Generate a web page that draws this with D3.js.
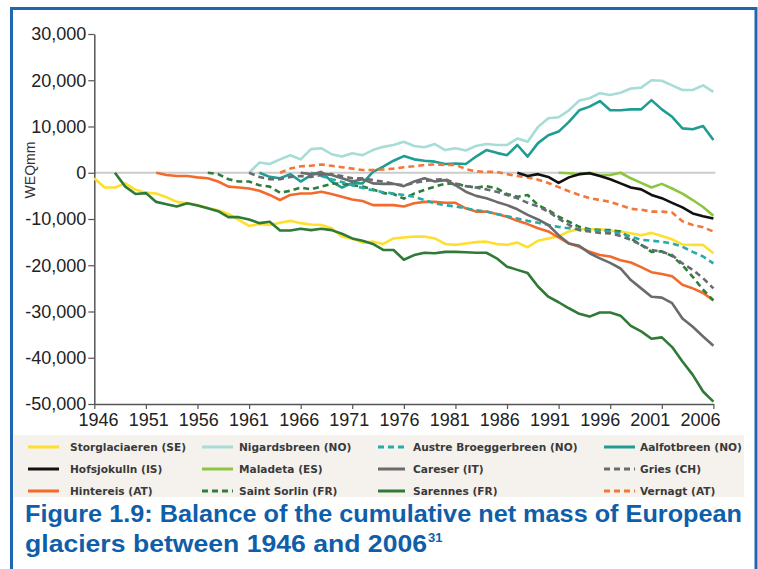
<!DOCTYPE html>
<html>
<head>
<meta charset="utf-8">
<script src="https://cdn.jsdelivr.net/npm/d3@7"></script>
<style>
  html, body { margin: 0; padding: 0; background: #ffffff; }
  svg { display: block; }
</style>
</head>
<body>
<svg id="chart" width="758" height="569"></svg>
<script>
// ---------- DATA ----------
const firstYear = 1946;
const lastYear = 2006;
const yTickValues = [30000, 20000, 10000, 0, -10000, -20000, -30000, -40000, -50000];
const xTickYears = [1946, 1951, 1956, 1961, 1966, 1971, 1976, 1981, 1986, 1991, 1996, 2001, 2006];

const storglaciaeren = [-1200, -3200, -3200, -2300, -3700, -4300, -4500, -5300, -6300, -6600, -7000, -7600, -8100, -8900, -10200, -11500, -11100, -11300, -10800, -10400, -10900, -11200, -11300, -12000, -13800, -14300, -15100, -14900, -15400, -14200, -14000, -13800, -13800, -14200, -15400, -15600, -15300, -15000, -14900, -15400, -15600, -15100, -16100, -14700, -14200, -13700, -12700, -12200, -12200, -12200, -12500, -12700, -13100, -13500, -13000, -13700, -14400, -15500, -15600, -15600, -17400];
const storglaciaerenStart = 1946;

const nigardsbreen = [0, 2200, 1900, 2900, 3800, 2900, 5100, 5300, 4000, 3500, 4200, 3800, 4900, 5600, 6000, 6700, 5800, 5500, 6200, 4900, 5300, 4800, 5800, 6200, 6000, 6000, 7400, 6700, 9900, 11800, 12000, 13500, 15600, 16100, 17200, 16800, 17300, 18200, 18400, 20000, 19900, 18900, 17900, 17900, 18900, 17500];
const nigardsbreenStart = 1961;

const austreBroeggerbreen = [0, -700, -1400, -2000, -2700, -3300, -3800, -4200, -4500, -4800, -5200, -5900, -6600, -7000, -7300, -7700, -8100, -8400, -8900, -9400, -9900, -10400, -10800, -11300, -11700, -12000, -12200, -12400, -12500, -12700, -13100, -13800, -14500, -14700, -14900, -15300, -16000, -17100, -18100, -19600];
const austreBroeggerbreenStart = 1967;

const aalfotbreen = [0, -900, -1200, -300, -1900, -500, 200, -1900, -3200, -2200, -2300, 200, 1300, 2600, 3600, 2900, 2600, 2400, 1900, 2000, 1900, 3500, 4900, 4300, 3800, 6000, 3500, 6400, 8100, 8900, 11000, 13500, 14300, 15500, 13500, 13500, 13700, 13700, 15700, 13700, 12100, 9600, 9400, 10100, 7100];
const aalfotbreenStart = 1962;

const hofsjokulln = [0, -700, -300, -900, -2200, -1000, -300, -100, -700, -1400, -2300, -3200, -3600, -4800, -5500, -6500, -7500, -8800, -9400, -9900];
const hofsjokullnStart = 1987;

const maladeta = [0, -100, -300, 0, -600, -500, 0, -1200, -2200, -3200, -2400, -3400, -4500, -5900, -7400, -9300];
const maladetaStart = 1991;

const careser = [0, -300, -100, -500, -1200, -1900, -1400, -2300, -2400, -2400, -2900, -1900, -1200, -1900, -1600, -2700, -4100, -5000, -5500, -6300, -7000, -7900, -9100, -10100, -11300, -13500, -15300, -15800, -17400, -18500, -19500, -20700, -23200, -25000, -26800, -27000, -28200, -31500, -33300, -35400, -37400];
const careserStart = 1966;

const gries = [0, -900, -1400, -1400, -900, -700, -900, -500, -300, -700, -1200, -1200, -1600, -1900, -2400, -2700, -2200, -1800, -1500, -1400, -2300, -2900, -3200, -3600, -4100, -4800, -5500, -6500, -7300, -8400, -9900, -11300, -12400, -12700, -13000, -13100, -13700, -14500, -15600, -16700, -17100, -17800, -19600, -21000, -22800, -25000];
const griesStart = 1961;

const hintereis = [0, -500, -700, -700, -1000, -1200, -1900, -3000, -3200, -3400, -3900, -4800, -5900, -4800, -4500, -4500, -4100, -4600, -5200, -5800, -6100, -7000, -7000, -7000, -7300, -6600, -6300, -6300, -6500, -6500, -7700, -8400, -8400, -8900, -9500, -10400, -11100, -12000, -12700, -14000, -15300, -16000, -17100, -17800, -18100, -18900, -19400, -20400, -21500, -21900, -22400, -24200, -25000, -26000, -27600];
const hintereisStart = 1952;

const saintSorlin = [0, -300, -1400, -1900, -1900, -2700, -3000, -4300, -3900, -3200, -3600, -3000, -2400, -2300, -2700, -3000, -3600, -4400, -4600, -5600, -4500, -3700, -3000, -2400, -2300, -2900, -3200, -2900, -3400, -4600, -5200, -4800, -7000, -8100, -9500, -10600, -11700, -12200, -12400, -12400, -12700, -14200, -15600, -17100, -17000, -18000, -20000, -22500, -25300, -27600];
const saintSorlinStart = 1957;

const sarennes = [0, -3000, -4600, -4400, -6300, -6800, -7300, -6600, -7100, -7700, -8300, -9600, -9600, -10100, -10900, -10600, -12500, -12500, -12100, -12400, -12100, -12400, -13200, -14200, -14700, -15400, -16700, -16700, -18800, -17800, -17300, -17400, -17100, -17100, -17200, -17300, -17300, -18500, -20300, -21000, -21700, -24600, -26800, -28000, -29300, -30500, -31100, -30200, -30200, -30900, -33100, -34300, -35900, -35600, -37700, -40800, -43700, -47300, -49500];
const sarennesStart = 1948;

const vernagt = [0, 900, 1400, 1500, 1800, 1500, 1200, 900, 600, 600, 700, 900, 1200, 1400, 1700, 1800, 1700, 1700, 800, 300, 200, 200, -300, -700, -1000, -1500, -2200, -3100, -4000, -4800, -5500, -5900, -6300, -7000, -7800, -8000, -8400, -8400, -8600, -10500, -11300, -11800, -12700];
const vernagtStart = 1964;

// legend order (rows, 4 columns)
const seriesNames = [
  "Storglaciaeren (SE)", "Nigardsbreen (NO)", "Austre Broeggerbreen (NO)", "Aalfotbreen (NO)",
  "Hofsjokulln (IS)", "Maladeta (ES)", "Careser (IT)", "Gries (CH)",
  "Hintereis (AT)", "Saint Sorlin (FR)", "Sarennes (FR)", "Vernagt (AT)"
];
const seriesValues = [storglaciaeren, nigardsbreen, austreBroeggerbreen, aalfotbreen, hofsjokulln, maladeta, careser, gries, hintereis, saintSorlin, sarennes, vernagt];
const seriesStarts = [storglaciaerenStart, nigardsbreenStart, austreBroeggerbreenStart, aalfotbreenStart, hofsjokullnStart, maladetaStart, careserStart, griesStart, hintereisStart, saintSorlinStart, sarennesStart, vernagtStart];

const titleLine1 = "Figure 1.9: Balance of the cumulative net mass of European";
const titleLine2 = "glaciers between 1946 and 2006";
const titleNote = "31";

// ---------- STYLE ----------
const seriesColors = ["#ffdf2e", "#a7dcd7", "#27aaa8", "#1f9d92", "#111111", "#8cc63f", "#6b6b6b", "#666d70", "#f26a2c", "#2f7d3b", "#2f7a36", "#f4773a"];
const seriesDashed = [false, false, true, false, false, false, false, true, false, true, false, true];
const drawOrder = [1, 3, 11, 0, 10, 8, 9, 2, 7, 6, 5, 4];

const svg = d3.select("#chart");

// frame
svg.append("rect")
  .attr("x", 11.5).attr("y", 8.5)
  .attr("width", 744.5).attr("height", 620)
  .attr("fill", "none").attr("stroke", "#1f66b3").attr("stroke-width", 3);

const x = d3.scaleLinear().domain([firstYear, lastYear]).range([94.3, 713.4]);
const y = d3.scaleLinear().domain([-50000, 30000]).range([404, 34]);
const labelX = d3.scaleLinear().domain([firstYear, lastYear]).range([98, 700]);

const axisFont = "'Liberation Sans', Arial, sans-serif";
const fmt = d3.format(",");

// zero line
svg.append("line")
  .attr("x1", x(firstYear)).attr("x2", x(lastYear) + 2)
  .attr("y1", y(0)).attr("y2", y(0))
  .attr("stroke", "#cccccc").attr("stroke-width", 2);

// y axis
const yAxis = d3.axisLeft(y).tickValues(yTickValues).tickSize(6).tickSizeOuter(0)
  .tickFormat(d => fmt(d).replace("\u2212", "-"));
const gy = svg.append("g").attr("transform", `translate(${x(firstYear)},0)`).call(yAxis);
gy.select(".domain").attr("stroke", "#555").attr("stroke-width", 1.5);
gy.selectAll(".tick line").attr("stroke", "#555").attr("stroke-width", 1.2);
gy.selectAll(".tick text").attr("font-family", axisFont).attr("font-size", 18).attr("fill", "#222").attr("x", -8);

// x axis
const xAxis = d3.axisBottom(x).tickValues(xTickYears).tickSize(5).tickSizeOuter(0)
  .tickFormat(d3.format("d"));
const gx = svg.append("g").attr("transform", `translate(0,${y(-50000)})`).call(xAxis);
gx.select(".domain").attr("stroke", "#555").attr("stroke-width", 1.5);
gx.selectAll(".tick line").attr("stroke", "#555").attr("stroke-width", 1.2);
gx.selectAll(".tick text")
  .attr("font-family", axisFont).attr("font-size", 18).attr("fill", "#222")
  .attr("y", 9)
  .attr("dx", d => labelX(d) - x(d));

// y axis title
svg.append("text")
  .attr("transform", `translate(35,170) rotate(-90)`)
  .attr("text-anchor", "middle")
  .attr("font-family", axisFont).attr("font-size", 14).attr("fill", "#333")
  .text("WEQmm");

// lines
const line = d3.line().x(d => x(d[0])).y(d => y(d[1]));
drawOrder.forEach(i => {
  const pts = seriesValues[i].map((v, k) => [seriesStarts[i] + k, v]);
  svg.append("path")
    .datum(pts)
    .attr("d", line)
    .attr("fill", "none")
    .attr("stroke", seriesColors[i])
    .attr("stroke-width", 2.6)
    .attr("stroke-linejoin", "round")
    .attr("stroke-dasharray", seriesDashed[i] ? "6,4" : null);
});

// legend
svg.append("rect")
  .attr("x", 14).attr("y", 435).attr("width", 730).attr("height", 62)
  .attr("fill", "#f5f2ee");
const colSwatchX = [28, 202, 378, 604];
const colTextX = [70, 239, 413, 640];
const rowY = [447, 469, 491];
seriesNames.forEach((name, i) => {
  const c = i % 4, r = Math.floor(i / 4);
  svg.append("line")
    .attr("x1", colSwatchX[c]).attr("x2", colSwatchX[c] + (c === 2 ? 27 : 31))
    .attr("y1", rowY[r]).attr("y2", rowY[r])
    .attr("stroke", seriesColors[i]).attr("stroke-width", 3)
    .attr("stroke-dasharray", seriesDashed[i] ? "6,4" : null);
  svg.append("text")
    .attr("x", colTextX[c]).attr("y", rowY[r]).attr("dy", "0.36em")
    .attr("font-family", "'DejaVu Sans', Verdana, sans-serif")
    .attr("font-weight", "bold").attr("font-size", 10.6)
    .attr("fill", "#3a3a3a")
    .text(name);
});

// title
const titleFont = "'Liberation Sans', Arial, sans-serif";
svg.append("text")
  .attr("x", 25).attr("y", 522)
  .attr("font-family", titleFont).attr("font-weight", "bold").attr("font-size", 24)
  .attr("fill", "#0f5ea9")
  .attr("textLength", 717).attr("lengthAdjust", "spacingAndGlyphs")
  .text(titleLine1);
svg.append("text")
  .attr("x", 25).attr("y", 552)
  .attr("font-family", titleFont).attr("font-weight", "bold").attr("font-size", 24)
  .attr("fill", "#0f5ea9")
  .attr("textLength", 402).attr("lengthAdjust", "spacingAndGlyphs")
  .text(titleLine2);
svg.append("text")
  .attr("x", 428).attr("y", 542)
  .attr("font-family", titleFont).attr("font-weight", "bold").attr("font-size", 13)
  .attr("fill", "#0f5ea9")
  .text(titleNote);
</script>
</body>
</html>
